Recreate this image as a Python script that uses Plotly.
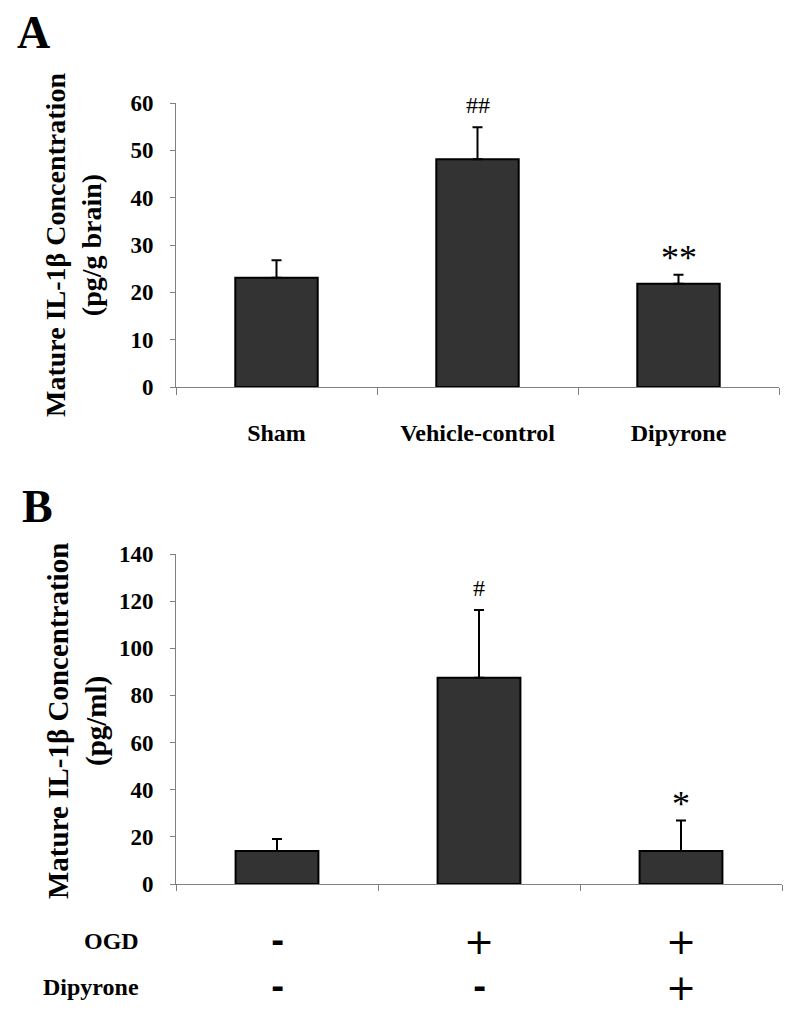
import plotly.graph_objects as go

# ---- data ----
a_categories = ["Sham", "Vehicle-control", "Dipyrone"]
a_means = [23.1, 48.1, 21.8]
a_errors = [3.7, 6.8, 1.9]
a_marks = ["", "##", "**"]

b_categories = ["Control", "OGD", "OGD + Dipyrone"]
b_means = [14.0, 87.5, 14.0]
b_errors = [5.1, 28.7, 12.9]
b_marks = ["", "#", "*"]
b_ogd = ["-", "+", "+"]
b_dipyrone = ["-", "-", "+"]

SERIF = "Liberation Serif"
BAR = "#333333"
AX = "#808080"
OFF = 8                      # page body margin
W, H = 800 - 2 * OFF, 1018 - 2 * OFF


def px(x):
    return (x - OFF) / W


def py(y):
    return 1 - (y - OFF) / H


fig = go.Figure()


def add_bars(cats, means, errs, xa, ya):
    fig.add_trace(go.Bar(
        x=cats, y=means, xaxis=xa, yaxis=ya,
        marker=dict(color=BAR, line=dict(color="black", width=2)),
        error_y=dict(type="data", symmetric=False, array=errs,
                     arrayminus=[0] * len(errs), color="black",
                     thickness=2, width=5),
        showlegend=False, hoverinfo="skip"))


add_bars(a_categories, a_means, a_errors, "x", "y")
add_bars(b_categories, b_means, b_errors, "x2", "y2")

ann = []


def A(**kw):
    kw.setdefault("showarrow", False)
    kw.setdefault("xanchor", "center")
    kw.setdefault("yanchor", "middle")
    ann.append(kw)


# panel letters
A(text="<b>A</b>", x=px(33), y=py(33), xref="paper", yref="paper",
  font=dict(family=SERIF, size=46, color="black"))
A(text="<b>B</b>", x=px(37), y=py(507), xref="paper", yref="paper",
  font=dict(family=SERIF, size=46, color="black"))
# y titles
A(text="<b>Mature IL-1β Concentration<br>(pg/g brain)</b>",
  x=px(73), y=py(245), xref="paper", yref="paper", textangle=-90,
  font=dict(family=SERIF, size=28, color="black"))
A(text="<b>Mature IL-1β Concentration<br>(pg/ml)</b>",
  x=px(77), y=py(721), xref="paper", yref="paper", textangle=-90,
  font=dict(family=SERIF, size=29, color="black"))

# significance marks
for c, m, e, t in zip(a_categories, a_means, a_errors, a_marks):
    if t:
        big = t.startswith("*")
        A(text=t, x=c, y=m + e, xref="x", yref="y",
          yshift=(17 if big else 22),
          font=dict(family=SERIF, size=(36 if big else 24), color="black"))
for c, m, e, t in zip(b_categories, b_means, b_errors, b_marks):
    if t:
        big = t.startswith("*")
        A(text=t, x=c, y=m + e, xref="x2", yref="y2",
          yshift=(17 if big else 22),
          font=dict(family=SERIF, size=(36 if big else 24), color="black"))

# condition rows for panel B
row_y = [py(941), py(987)]
A(text="<b>OGD</b>", x=px(141), y=row_y[0], xref="paper", yref="paper",
  xanchor="right", font=dict(family=SERIF, size=24, color="black"))
A(text="<b>Dipyrone</b>", x=px(141), y=row_y[1], xref="paper", yref="paper",
  xanchor="right", font=dict(family=SERIF, size=24, color="black"))
for row, signs in zip(row_y, [b_ogd, b_dipyrone]):
    for c, s in zip(b_categories, signs):
        if s == "+":
            f = dict(family="DejaVu Sans", size=36, color="black")
        else:
            f = dict(family="DejaVu Sans", size=32, color="black", weight="bold")
        A(text=s, x=c, y=row, xref="x2", yref="paper", font=f)

tickfont = dict(family=SERIF, size=23, color="black", weight="bold")

fig.update_layout(
    template="none",
    width=W, height=H, margin=dict(l=0, r=0, t=0, b=0, pad=0),
    paper_bgcolor="white", plot_bgcolor="white",
    bargap=0.59,
    annotations=ann,
    xaxis=dict(domain=[px(176), px(779)], anchor="y", showline=True, linecolor=AX,
               linewidth=1, ticks="outside", tickson="boundaries", ticklen=7,
               tickcolor=AX, tickfont=dict(family=SERIF, size=24, color="black",
                                           weight="bold"),
               ticklabelstandoff=24, showgrid=False, zeroline=False,
               automargin=False),
    yaxis=dict(domain=[py(387), py(103)], anchor="x", range=[0, 60], dtick=10,
               showline=True, linecolor=AX, linewidth=1, ticks="outside", ticklen=5,
               tickcolor=AX, tickfont=tickfont, ticklabelstandoff=12,
               showgrid=False, zeroline=False, automargin=False),
    xaxis2=dict(domain=[px(176), px(782)], anchor="y2", showline=True, linecolor=AX,
                linewidth=1, ticks="outside", tickson="boundaries", ticklen=6,
                tickcolor=AX, showticklabels=False, showgrid=False, zeroline=False,
                automargin=False),
    yaxis2=dict(domain=[py(884), py(554)], anchor="x2", range=[0, 140], dtick=20,
                showline=True, linecolor=AX, linewidth=1, ticks="outside", ticklen=5,
                tickcolor=AX, tickfont=tickfont, ticklabelstandoff=12,
                showgrid=False, zeroline=False, automargin=False),
)

fig.write_html("out.html")
